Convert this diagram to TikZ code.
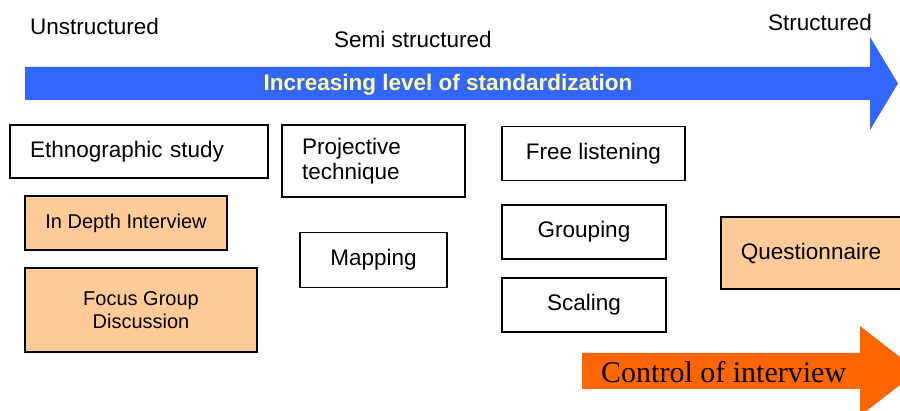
\documentclass[tikz,border=0pt]{standalone}
\usepackage{fontspec}
\setmainfont{Liberation Sans}
\newfontfamily\timesfont{Liberation Serif}
\definecolor{arrowblue}{HTML}{3366FF}
\definecolor{arroworange}{HTML}{FF6600}
\definecolor{peach}{HTML}{FFCC99}
\definecolor{paleyellow}{HTML}{FFFF99}
\tikzset{
  labeltext/.style={inner sep=0pt, font=\fontsize{22.5}{24}\selectfont},
  box/.style={draw=black, line width=1.5pt, fill=white, inner sep=0pt,
    font=\fontsize{22.5}{24.5}\selectfont},
  peachbox/.style={box, fill=peach, font=\fontsize{20}{23}\selectfont},
}
\begin{document}
\begin{tikzpicture}[x=1pt, y=-1pt]
  \path[use as bounding box, clip] (0,0) rectangle (900,411);
  \fill[white] (0,0) rectangle (900,411);

  % scale headings
  \node[labeltext, anchor=base west] (unstr) at (30,35) {Unstructured};
  \node[labeltext, anchor=base west] (semi) at (334,48) {Semi structured};
  \node[labeltext, anchor=base west] (str) at (768,31) {Structured};

  % standardization arrow
  \fill[arrowblue] (25,67) -- (870,67) -- (870,37) -- (898,83.5)
    -- (870,130) -- (870,100) -- (25,100) -- cycle;
  \node[inner sep=0pt, anchor=base, text=paleyellow,
    font=\fontsize{22.5}{24}\selectfont\bfseries] (std) at (448,91)
    {Increasing level of standardization};

  % unstructured methods
  \node[box, minimum width=258pt, minimum height=53pt, text width=218pt,
    align=left] (ethno) at (139,151.5) {Ethnographic study};
  \node[peachbox, minimum width=202pt, minimum height=54pt] (idi)
    at (126,223) {In Depth Interview};
  \node[peachbox, minimum width=232pt, minimum height=84pt, align=center]
    (fgd) at (141,310) {Focus Group\\Discussion};

  % semi structured methods
  \node[box, minimum width=183pt, minimum height=72pt, text width=143pt,
    align=left] (proj) at (373.5,161) {Projective\\technique};
  \node[box, minimum width=147pt, minimum height=55pt] (map)
    at (373.5,260) {Mapping};
  \node[box, minimum width=183pt, minimum height=54pt] (free)
    at (593.5,153.5) {Free listening};
  \node[box, minimum width=164pt, minimum height=54pt] (group)
    at (584,232) {Grouping};
  \node[box, minimum width=164pt, minimum height=54pt] (scale)
    at (584,305) {Scaling};

  % structured method
  \node[peachbox, minimum width=180pt, minimum height=72pt,
    font=\fontsize{22.5}{24}\selectfont] (quest) at (811,253) {Questionnaire};

  % interview control arrow
  \fill[arroworange] (582,353) -- (860,353) -- (860,326) -- (918,371)
    -- (860,416) -- (860,389) -- (582,389) -- cycle;
  \node[inner sep=0pt, anchor=base west, font=\timesfont\fontsize{30}{32}\selectfont]
    (ctrl) at (601,383) {Control of interview};
\end{tikzpicture}
\end{document}
